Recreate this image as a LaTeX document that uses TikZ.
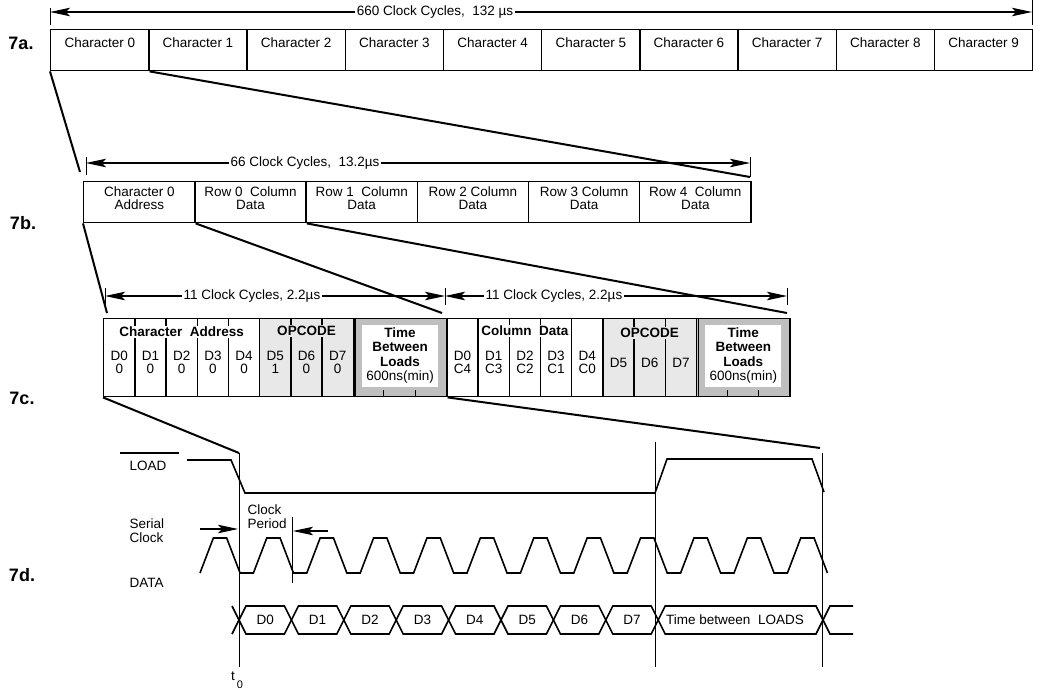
\documentclass[tikz,border=0pt]{standalone}
\usepackage{fontspec}
\setmainfont{Liberation Sans}
\usetikzlibrary{arrows.meta,positioning,calc}

\tikzset{
  dimarrow/.style={-{Stealth[length=20pt,width=8.5pt,inset=4pt]},line width=1.1pt},
  dimtick/.style={line width=1pt},
  boxa/.style={draw,line width=1.4pt,anchor=north west,minimum width=98.2pt,minimum height=41pt,inner sep=0pt},
  boxb/.style={draw,line width=1.4pt,anchor=north west,minimum width=111.2pt,minimum height=41pt,inner sep=0pt},
  bitcell/.style={draw,line width=1.4pt,anchor=north west,minimum width=31.2pt,minimum height=78pt,inner sep=0pt},
  opcell/.style={bitcell,fill=gray!18},
  gapcell/.style={draw,line width=1.4pt,anchor=north west,minimum width=93.6pt,minimum height=78pt,inner sep=0pt,fill=gray!50},
  fan/.style={line width=2pt},
  wave/.style={line width=1.6pt,line join=miter},
  guide/.style={line width=1pt},
  rowlbl/.style={font=\fontsize{18}{18}\selectfont\bfseries},
  dimlbl/.style={inner sep=1.5pt},
  hdr/.style={font=\fontsize{13.5}{14}\selectfont\bfseries,inner sep=1pt},
  twoline/.style={align=center,font=\fontsize{13.5}{13}\selectfont},
}

\begin{document}
\begin{tikzpicture}[x=1pt,y=-1pt,font=\fontsize{13.5}{14}\selectfont]
\useasboundingbox (0,0) rectangle (1041,689);

% 7a: the ten characters
\node[rowlbl] (l7a) at (21,43) {7a.};
\foreach \i in {0,...,9}
  \node[boxa] (a\i) at ({50+98.2*\i},29) {};
\foreach \i in {0,...,9}
  \node (ta\i) at ($(a\i.north)+(0,14)$) {Character \i};
\coordinate (a-l) at (50,12);
\coordinate (a-r) at (1032,12);
\draw[dimtick] (50,8) -- (50,25);
\draw[dimtick] (1032,0) -- (1032,25);
\node[dimlbl] (da) at (435,12) {660 Clock Cycles,\ \ 132 µs};
\draw[dimarrow] (da.west) -- (a-l);
\draw[dimarrow] (da.east) -- (a-r);

% 7b: one character
\node[rowlbl] (l7b) at (23,223) {7b.};
\foreach \i/\txt in {0/{Character 0\\Address},1/{Row 0\ \ Column\\Data},2/{Row 1\ \ Column\\Data},3/{Row 2 Column\\Data},4/{Row 3 Column\\Data},5/{Row 4\ \ Column\\Data}} {
  \node[boxb] (b\i) at ({83+111.2*\i},181) {};
  \node[twoline] (tb\i) at ($(b\i.north)+(0,17.5)$) {\txt};
}
\coordinate (b-l) at (86,163);
\coordinate (b-r) at (750,163);
\draw[dimtick] (86,157) -- (86,175);
\draw[dimtick] (750,157) -- (750,177);
\node[dimlbl] (db) at (305,163) {66 Clock Cycles,\ \ 13.2µs};
\draw[dimarrow] (db.west) -- (b-l);
\draw[dimarrow] (db.east) -- (b-r);

\coordinate (fa-l) at (80,172);
\coordinate (fa-r) at (750,177);
\draw[fan] (a0.south west) -- (fa-l);
\draw[fan] (a0.south east) -- (fa-r);

% 7c: address word and data word
\node[rowlbl] (l7c) at (22,398) {7c.};
\foreach \i in {0,...,4}
  \node[bitcell] (ca\i) at ({103+31.2*\i},318) {};
\foreach \i in {5,6,7}
  \node[opcell] (ca\i) at ({103+31.2*\i},318) {};
\node[gapcell] (gapA) at ({103+31.2*8},318) {};
\foreach \i in {0,...,4}
  \node[bitcell] (cb\i) at ({446.2+31.2*\i},318) {};
\foreach \i in {5,6,7}
  \node[opcell] (cb\i) at ({446.2+31.2*\i},318) {};
\node[gapcell] (gapB) at ({446.2+31.2*8},318) {};

\foreach \g in {gapA,gapB} {
  \draw[line width=1.4pt] ($(\g.north west)+(2.5,0)$) -- ($(\g.south west)+(2.5,0)$);
  \draw[line width=1pt] ($(\g.south west)+(31.2,0)$) -- ++(0,-7);
  \draw[line width=1pt] ($(\g.south west)+(62.4,0)$) -- ++(0,-7);
  \node[align=center,fill=white,inner sep=1pt,minimum width=76pt,minimum height=62pt,
        font=\fontsize{13.5}{14.5}\selectfont] (t\g) at ($(\g.center)+(0,-2)$)
        {\textbf{Time}\\\textbf{Between}\\\textbf{Loads}\\600ns(min)};
}

\node[hdr,fill=white] (hca) at ($(ca0.north)!0.5!(ca4.north)+(0,14)$) {Character\ \ Address};
\node[hdr,fill=gray!18] (hoa) at ($(ca5.north)!0.5!(ca7.north)+(0,13)$) {OPCODE};
\node[hdr,fill=white] (hcb) at ($(cb0.north)!0.5!(cb4.north)+(0,13)$) {Column\ \ Data};
\node[hdr,fill=gray!18] (hob) at ($(cb5.north)!0.5!(cb7.north)+(0,15)$) {OPCODE};

\foreach \i/\v in {0/0,1/0,2/0,3/0,4/0,5/1,6/0,7/0}
  \node[twoline] (va\i) at ($(ca\i.north)+(0,44)$) {D\i\\\v};
\foreach \i/\v in {0/C4,1/C3,2/C2,3/C1,4/C0}
  \node[twoline] (vb\i) at ($(cb\i.north)+(0,44)$) {D\i\\\v};
\foreach \i in {5,6,7}
  \node (vb\i) at ($(cb\i.north)+(0,45)$) {D\i};

\coordinate (c1-l) at (105,296);
\coordinate (c1-r) at (445,296);
\coordinate (c2-r) at (787,296);
\draw[dimtick] (105,288) -- (105,305);
\draw[dimtick] (445,288) -- (445,305);
\draw[dimtick] (787,288) -- (787,305);
\node[dimlbl] (dc1) at (252,296) {11 Clock Cycles, 2.2µs};
\node[dimlbl] (dc2) at (554,296) {11 Clock Cycles, 2.2µs};
\draw[dimarrow] (dc1.west) -- (c1-l);
\draw[dimarrow] (dc1.east) -- (c1-r);
\draw[dimarrow] (dc2.west) -- (c1-r);
\draw[dimarrow] (dc2.east) -- (c2-r);

\coordinate (fb-l) at (107,313);
\coordinate (fb-m) at (442,313);
\coordinate (fb-r) at (787,313);
\draw[fan] (b0.south west) -- (fb-l);
\draw[fan] (b0.south east) -- (fb-m);
\draw[fan] (b1.south east) -- (fb-r);

% 7d: timing of one word
\node[rowlbl] (l7d) at (22,575) {7d.};
\coordinate (t0top) at (239,453);
\coordinate (t0bot) at (239,667);
\coordinate (ldtop) at (655,442);
\coordinate (ldbot) at (655,667);
\coordinate (endtop) at (822,453);
\coordinate (endbot) at (822,667);
\coordinate (fc-r) at (820,448);
\draw[guide] (t0top) -- (t0bot);
\draw[guide] (ldtop) -- (ldbot);
\draw[guide] (endtop) -- (endbot);
\draw[fan] (ca0.south west) -- (t0top);
\draw[fan] (gapA.south east) -- (fc-r);

\node[anchor=west] (lload) at (126,466) {LOAD};
\draw[line width=1.2pt] (120,453) -- (179,453);
\draw[wave] (187,460) -- (231,460) -- (245,493) -- (655,493) -- (667,459) -- (812,459) -- (824,492);

\node[anchor=west,align=left] (lclk) at (126,531) {Serial\\Clock};
\node[anchor=west] (ldata) at (126,583) {DATA};
\draw[wave] (200,573) \foreach \k in {0,...,10} { -- ++(13.35,-35) -- ++(13.35,0) -- ++(13.35,35) -- ++(13.35,0) }
  -- ++(13.35,-35) -- ++(13.35,0) -- ++(13.35,35);

\node[anchor=west,align=left] (cper) at (244,517) {Clock\\Period};
\coordinate (cp-a) at (200,529);
\coordinate (cp-b) at (238,529);
\coordinate (cp-c) at (328,531);
\coordinate (cp-d) at (293,531);
\draw[guide] (292,517) -- (292,583);
\draw[dimarrow] (cp-a) -- (cp-b);
\draw[dimarrow] (cp-c) -- (cp-d);

% data bus
\draw[wave] (232,606) -- (239,620) -- (232,634);
\foreach \k in {0,...,7} {
  \pgfmathsetmacro\xa{239+52.4*\k}
  \pgfmathsetmacro\xb{239+52.4*(\k+1)}
  \draw[wave] (\xa,620) -- (\xa+7,606) -- (\xb-7,606) -- (\xb,620) -- (\xb-7,634) -- (\xa+7,634) -- cycle;
  \node (bit\k) at ({(\xa+\xb)/2},620) {D\k};
}
\draw[wave] (658.2,620) -- (665.2,606) -- (816,606) -- (823,620) -- (816,634) -- (665.2,634) -- cycle;
\node (tbl) at (735,620) {Time between\ \ LOADS};
\draw[wave] (853,606) -- (830,606) -- (823,620) -- (830,634) -- (853,634);

\node (tzero) at (233,676) {t};
\node[font=\fontsize{11}{11}\selectfont] (tzsub) at (240,685) {0};
\end{tikzpicture}
\end{document}
